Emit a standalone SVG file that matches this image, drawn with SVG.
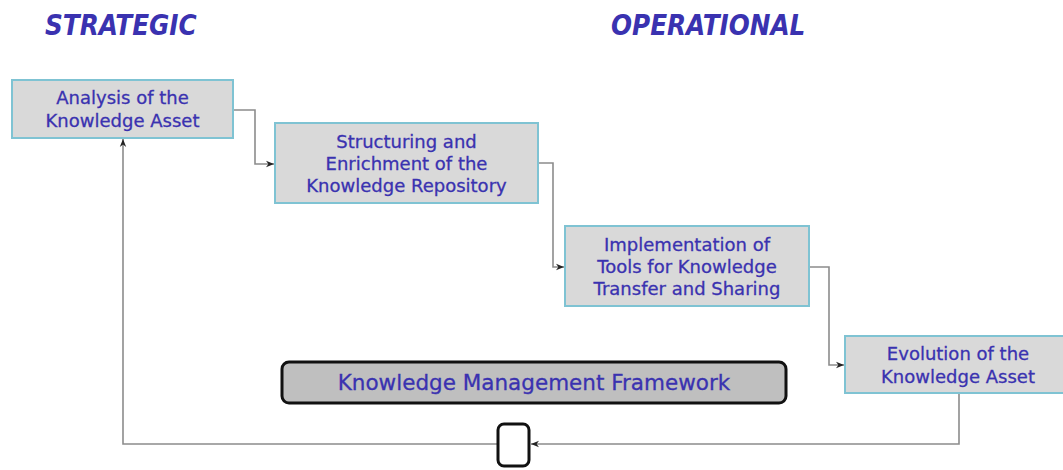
<svg xmlns="http://www.w3.org/2000/svg" width="1063" height="470" viewBox="0 0 1063 470">
<defs>
<style>
.box{fill:#d9d9d9;stroke:#7fc3d3;stroke-width:2}
.t{font-family:"DejaVu Sans",sans-serif;font-size:18px;fill:#3a32b0;stroke:#3a32b0;stroke-width:0.3;text-anchor:middle}
.h{font-family:"DejaVu Sans Condensed","DejaVu Sans",sans-serif;font-size:27.5px;font-weight:bold;font-style:italic;fill:#3a32b0}
.c{fill:none;stroke:#8c8c8c;stroke-width:1.6}
</style>
<marker id="ar" viewBox="0 0 10 10" refX="10" refY="5" markerWidth="8" markerHeight="8" orient="auto" markerUnits="userSpaceOnUse">
<path d="M0,1 L10,5 L0,9 L3,5 z" fill="#222"/>
</marker>
</defs>
<rect width="1063" height="470" fill="#fff"/>
<text class="h" x="45" y="35">STRATEGIC</text>
<text class="h" x="611" y="35">OPERATIONAL</text>
<g id="connectors">
<path class="c" d="M233,110 H255 V164 H274" marker-end="url(#ar)"/>
<path class="c" d="M538,163 H553 V267 H564" marker-end="url(#ar)"/>
<path class="c" d="M809,267 H829 V365 H844" marker-end="url(#ar)"/>
<path class="c" d="M959,393 V444 H531" marker-end="url(#ar)"/>
<path class="c" d="M497,444 H123 V139" marker-end="url(#ar)"/>
</g>
<g id="n1">
<rect class="box" x="12" y="80" width="221" height="58"/>
<text class="t" x="122.5" y="104">Analysis of the</text>
<text class="t" x="122.5" y="127">Knowledge Asset</text>
</g>
<g id="n2">
<rect class="box" x="275" y="123" width="263" height="80"/>
<text class="t" x="406.5" y="148">Structuring and</text>
<text class="t" x="406.5" y="170">Enrichment of the</text>
<text class="t" x="406.5" y="192">Knowledge Repository</text>
</g>
<g id="n3">
<rect class="box" x="565" y="226" width="244" height="80"/>
<text class="t" x="687" y="251">Implementation of</text>
<text class="t" x="687" y="273">Tools for Knowledge</text>
<text class="t" x="687" y="295">Transfer and Sharing</text>
</g>
<g id="n4">
<rect class="box" x="845" y="336" width="225" height="57"/>
<text class="t" x="958" y="360">Evolution of the</text>
<text class="t" x="958" y="383">Knowledge Asset</text>
</g>
<g id="n5">
<rect x="282" y="362" width="504" height="41" rx="7" fill="#bfbfbf" stroke="#111" stroke-width="3"/>
<text x="534" y="390" font-family="'DejaVu Sans',sans-serif" font-size="21.5" fill="#3a32b0" stroke="#3a32b0" stroke-width="0.3" text-anchor="middle">Knowledge Management Framework</text>
</g>
<g id="n6">
<rect x="498" y="424" width="31" height="42" rx="6" fill="#fff" stroke="#111" stroke-width="3"/>
</g>
</svg>
